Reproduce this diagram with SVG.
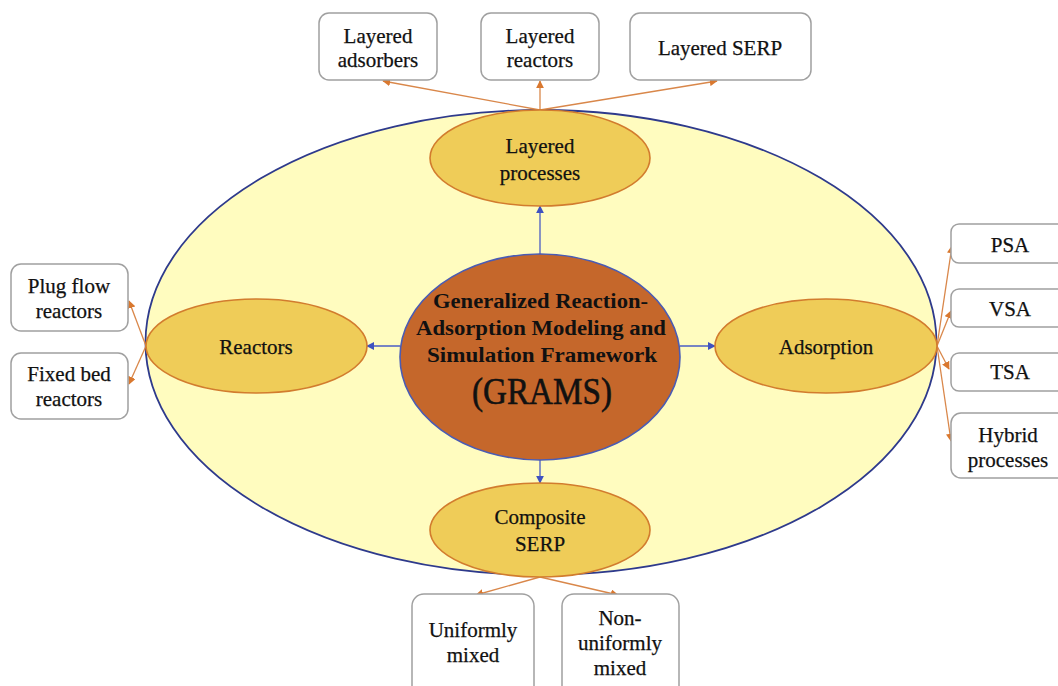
<svg xmlns="http://www.w3.org/2000/svg" width="1058" height="686" viewBox="0 0 1058 686">
  <style>
    .box { fill: #ffffff; stroke: #a0a0a0; stroke-width: 1.5; }
    .sub { fill: #efcc58; stroke: #d27c2e; stroke-width: 1.6; }
    .lbl { font-family: "Liberation Serif", "Times New Roman", serif; font-size: 21px; fill: #111111; text-anchor: middle; stroke: #111111; stroke-width: 0.25; }
    .core { font-family: "Liberation Serif", "Times New Roman", serif; font-weight: bold; font-size: 21px; fill: #111111; text-anchor: middle; }
    .blue { stroke: #4a5cc4; stroke-width: 1.3; fill: none; marker-end: url(#ahBlue); }
    .orange { stroke: #d9874a; stroke-width: 1.3; fill: none; marker-end: url(#ahOrange); }
  </style>
  <defs>
    <marker id="ahBlue" viewBox="0 0 10 10" refX="9" refY="5" markerWidth="8" markerHeight="8" markerUnits="userSpaceOnUse" orient="auto">
      <path d="M0,0 L10,5 L0,10 z" fill="#3f52c0"/>
    </marker>
    <marker id="ahOrange" viewBox="0 0 10 10" refX="9" refY="5" markerWidth="8" markerHeight="8" markerUnits="userSpaceOnUse" orient="auto">
      <path d="M0,0 L10,5 L0,10 z" fill="#d9782f"/>
    </marker>
  </defs>

  <rect width="1058" height="686" fill="#ffffff"/>

  <!-- outer domain ellipse -->
  <g id="domain">
    <ellipse cx="541" cy="342.5" rx="395.5" ry="232.5" fill="#fffcbf" stroke="#2e3a8c" stroke-width="1.8"/>
  </g>

  <!-- connectors -->
  <g id="connectors">
    <line class="blue" x1="540" y1="254" x2="540" y2="206"/>
    <line class="blue" x1="400" y1="346" x2="367" y2="346"/>
    <line class="blue" x1="680" y1="346" x2="715" y2="346"/>
    <line class="blue" x1="540" y1="460" x2="540" y2="483"/>

    <line class="orange" x1="540" y1="110" x2="383" y2="81"/>
    <line class="orange" x1="540" y1="110" x2="540" y2="81"/>
    <line class="orange" x1="540" y1="110" x2="717" y2="81"/>

    <line class="orange" x1="146" y1="346" x2="129" y2="301"/>
    <line class="orange" x1="146" y1="346" x2="129" y2="384"/>

    <line class="orange" x1="937" y1="346" x2="952" y2="246"/>
    <line class="orange" x1="937" y1="346" x2="951" y2="311"/>
    <line class="orange" x1="937" y1="346" x2="949" y2="369"/>
    <line class="orange" x1="937" y1="346" x2="951" y2="441"/>

    <line class="orange" x1="540" y1="577" x2="476" y2="595"/>
    <line class="orange" x1="540" y1="577" x2="618" y2="595"/>
  </g>

  <!-- central framework -->
  <g id="grams">
    <ellipse cx="540" cy="357" rx="140" ry="103" fill="#c5672b" stroke="#4a5cb4" stroke-width="1.6"/>
    <text class="core" x="540.5" y="308" textLength="215" lengthAdjust="spacingAndGlyphs">Generalized Reaction-</text>
    <text class="core" x="541" y="335" textLength="250" lengthAdjust="spacingAndGlyphs">Adsorption Modeling and</text>
    <text class="core" x="542" y="362" textLength="230" lengthAdjust="spacingAndGlyphs">Simulation Framework</text>
    <text class="core" x="542" y="404" style="font-size:38px;font-weight:normal;stroke:#111111;stroke-width:0.6" textLength="140" lengthAdjust="spacingAndGlyphs">(GRAMS)</text>
  </g>

  <g id="layered-processes">
    <ellipse class="sub" cx="540" cy="158" rx="110" ry="48"/>
    <text class="lbl" x="540" y="153">Layered</text>
    <text class="lbl" x="540" y="180">processes</text>
  </g>
  <g id="reactors">
    <ellipse class="sub" cx="256.5" cy="346" rx="110.5" ry="47"/>
    <text class="lbl" x="256" y="354">Reactors</text>
  </g>
  <g id="adsorption">
    <ellipse class="sub" cx="826" cy="346" rx="111" ry="47"/>
    <text class="lbl" x="826" y="354">Adsorption</text>
  </g>
  <g id="composite-serp">
    <ellipse class="sub" cx="540" cy="530" rx="110" ry="47"/>
    <text class="lbl" x="540" y="524">Composite</text>
    <text class="lbl" x="540" y="551">SERP</text>
  </g>

  <!-- leaf boxes -->
  <g id="layered-adsorbers">
    <rect class="box" x="319" y="13" width="118" height="67" rx="10"/>
    <text class="lbl" x="378" y="43">Layered</text>
    <text class="lbl" x="378" y="67">adsorbers</text>
  </g>
  <g id="layered-reactors">
    <rect class="box" x="481" y="13" width="118" height="67" rx="10"/>
    <text class="lbl" x="540" y="43">Layered</text>
    <text class="lbl" x="540" y="67">reactors</text>
  </g>
  <g id="layered-serp">
    <rect class="box" x="630" y="13" width="181" height="67" rx="10"/>
    <text class="lbl" x="720" y="55">Layered SERP</text>
  </g>
  <g id="plug-flow">
    <rect class="box" x="11" y="264" width="117" height="67" rx="10"/>
    <text class="lbl" x="69" y="293">Plug flow</text>
    <text class="lbl" x="69" y="318">reactors</text>
  </g>
  <g id="fixed-bed">
    <rect class="box" x="11" y="353" width="117" height="66" rx="10"/>
    <text class="lbl" x="69" y="381">Fixed bed</text>
    <text class="lbl" x="69" y="406">reactors</text>
  </g>
  <g id="psa">
    <rect class="box" x="951" y="224" width="120" height="39" rx="8"/>
    <text class="lbl" x="1010" y="252">PSA</text>
  </g>
  <g id="vsa">
    <rect class="box" x="951" y="289" width="120" height="38" rx="8"/>
    <text class="lbl" x="1010" y="316">VSA</text>
  </g>
  <g id="tsa">
    <rect class="box" x="951" y="353" width="120" height="38" rx="8"/>
    <text class="lbl" x="1010" y="379">TSA</text>
  </g>
  <g id="hybrid">
    <rect class="box" x="951" y="413" width="120" height="65" rx="10"/>
    <text class="lbl" x="1008" y="442">Hybrid</text>
    <text class="lbl" x="1008" y="467">processes</text>
  </g>
  <g id="uniformly-mixed">
    <rect class="box" x="412" y="594" width="122" height="110" rx="12"/>
    <text class="lbl" x="473" y="637">Uniformly</text>
    <text class="lbl" x="473" y="662">mixed</text>
  </g>
  <g id="non-uniformly-mixed">
    <rect class="box" x="562" y="594" width="117" height="110" rx="12"/>
    <text class="lbl" x="620" y="625">Non-</text>
    <text class="lbl" x="620" y="650">uniformly</text>
    <text class="lbl" x="620" y="675">mixed</text>
  </g>
</svg>
